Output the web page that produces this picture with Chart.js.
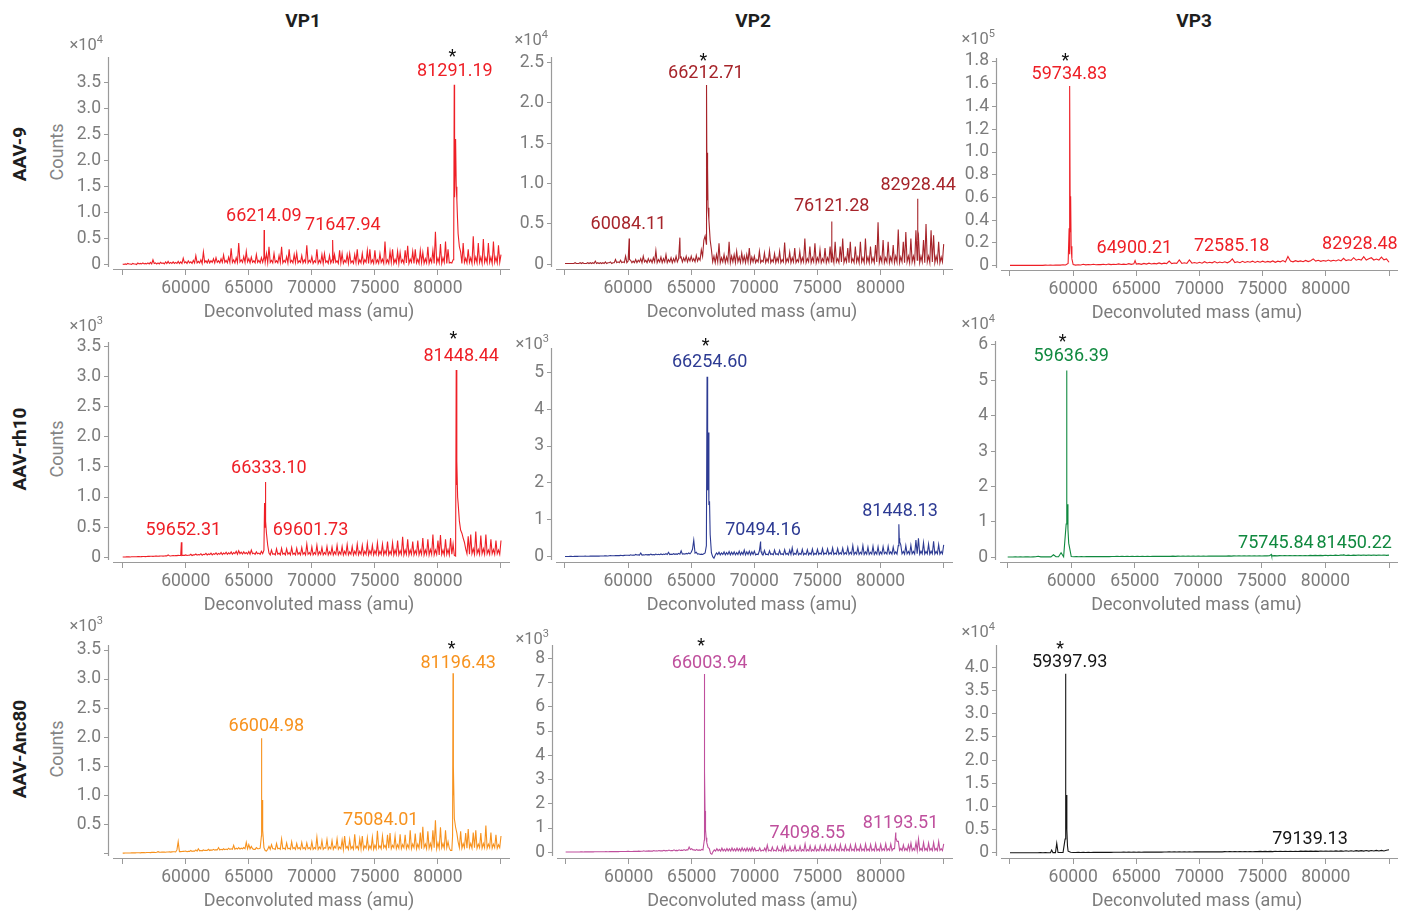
<!DOCTYPE html>
<html>
<head>
<meta charset="utf-8">
<script src="https://cdn.jsdelivr.net/npm/chart.js@4.4.1/dist/chart.umd.min.js"></script>
<style>
  body { margin: 0; background: #fff; width: 1415px; height: 916px; position: relative; overflow: hidden; font-family: Roboto, sans-serif; }
  canvas { position: absolute; }
  .lbl { position: absolute; white-space: nowrap; transform: translate(-50%, -50%); }
  .col { font-weight: bold; font-size: 19px; color: #1e1e1e; }
  .row { font-weight: bold; font-size: 19px; color: #1e1e1e; transform: translate(-50%, -50%) rotate(-90deg); }
  .cnt { font-size: 18px; color: #858585; transform: translate(-50%, -50%) rotate(-90deg); }
</style>
</head>
<body>
<div class="lbl col" style="left:303px;top:20px">VP1</div>
<div class="lbl col" style="left:753px;top:20px">VP2</div>
<div class="lbl col" style="left:1194px;top:20px">VP3</div>
<div class="lbl row" style="left:19px;top:154px">AAV-9</div>
<div class="lbl row" style="left:19px;top:449px">AAV-rh10</div>
<div class="lbl row" style="left:19px;top:749px">AAV-Anc80</div>
<div class="lbl cnt" style="left:56px;top:152px">Counts</div>
<div class="lbl cnt" style="left:56px;top:449px">Counts</div>
<div class="lbl cnt" style="left:56px;top:749px">Counts</div>
<script>
// mass grids shared by all spectra (amu)
const MASS = [
  55000,55200,55400,55600,55800,56000,56200,56400,56600,56800,57000,57200,57400,57600,57800,58000,58200,58400,58600,58800,59000,59200,59400,59600,59800,
  60000,60200,60400,60600,60800,61000,61200,61400,61600,61800,62000,62200,62400,62600,62800,63000,63200,63400,63600,63800,64000,64200,64400,64600,64800,
  65000,65200,65400,65600,65800,66000,66200,66400,66600,66800,67000,67200,67400,67600,67800,68000,68200,68400,68600,68800,69000,69200,69400,69600,69800,
  70000,70200,70400,70600,70800,71000,71200,71400,71600,71800,72000,72200,72400,72600,72800,73000,73200,73400,73600,73800,74000,74200,74400,74600,74800,
  75000,75200,75400,75600,75800,76000,76200,76400,76600,76800,77000,77200,77400,77600,77800,78000,78200,78400,78600,78800,79000,79200,79400,79600,79800,
  80000,80200,80400,80600,80800,81000,81200,81400,81600,81800,82000,82200,82400,82600,82800,83000,83200,83400,83600,83800,84000,84200,84400,84600,84800,85000
];
const MASS_MID = [
  55100,55300,55500,55700,55900,56100,56300,56500,56700,56900,57100,57300,57500,57700,57900,58100,58300,58500,58700,58900,59100,59300,59500,59700,59900,
  60100,60300,60500,60700,60900,61100,61300,61500,61700,61900,62100,62300,62500,62700,62900,63100,63300,63500,63700,63900,64100,64300,64500,64700,64900,
  65100,65300,65500,65700,65900,66100,66300,66500,66700,66900,67100,67300,67500,67700,67900,68100,68300,68500,68700,68900,69100,69300,69500,69700,69900,
  70100,70300,70500,70700,70900,71100,71300,71500,71700,71900,72100,72300,72500,72700,72900,73100,73300,73500,73700,73900,74100,74300,74500,74700,74900,
  75100,75300,75500,75700,75900,76100,76300,76500,76700,76900,77100,77300,77500,77700,77900,78100,78300,78500,78700,78900,79100,79300,79500,79700,79900,
  80100,80300,80500,80700,80900,81100,81300,81500,81700,81900,82100,82300,82500,82700,82900,83100,83300,83500,83700,83900,84100,84300,84500,84700,84900
];
const XTICKS = [55000, 60000, 65000, 70000, 75000, 80000, 85000];
const XTICK_LABELS = ['', '60000', '65000', '70000', '75000', '80000', ''];

// ---- AAV-9 ----
const AAV9_VP1 = [
  0.02,0.02,0.03,0.02,0.03,0.02,0.04,0.03,0.04,0.03,0.04,0.05,0.10,0.04,0.04,0.05,0.04,0.06,0.07,0.05,0.06,0.05,0.07,0.06,0.13,
  0.06,0.08,0.06,0.09,0.18,0.07,0.10,0.25,0.08,0.10,0.08,0.12,0.14,0.08,0.12,0.19,0.09,0.15,0.32,0.10,0.14,0.42,0.10,0.16,0.26,
  0.12,0.15,0.08,0.20,0.09,0.14,0.15,0.22,0.35,0.09,0.22,0.08,0.18,0.35,0.09,0.16,0.30,0.09,0.20,0.23,0.08,0.18,0.10,0.38,0.09,
  0.16,0.08,0.30,0.09,0.20,0.22,0.08,0.18,0.10,0.20,0.08,0.28,0.22,0.09,0.20,0.22,0.08,0.20,0.30,0.10,0.22,0.10,0.28,0.30,0.10,
  0.28,0.10,0.22,0.11,0.45,0.10,0.26,0.30,0.11,0.26,0.24,0.10,0.28,0.37,0.11,0.26,0.30,0.11,0.28,0.24,0.12,0.35,0.12,0.28,0.64,
  0.13,0.40,0.14,0.45,0.30,0.05,0.10,2.42,0.60,0.25,0.42,0.13,0.30,0.14,0.55,0.15,0.42,0.15,0.50,0.14,0.42,0.15,0.45,0.15,0.38,0.20
];
const AAV9_VP1_MID = [
  0.01,0.01,0.02,0.01,0.02,0.01,0.02,0.02,0.02,0.02,0.02,0.02,0.03,0.02,0.02,0.03,0.02,0.03,0.03,0.03,0.03,0.03,0.03,0.03,0.04,
  0.03,0.04,0.03,0.04,0.04,0.04,0.03,0.05,0.04,0.04,0.05,0.04,0.05,0.04,0.05,0.05,0.04,0.05,0.05,0.04,0.05,0.06,0.05,0.05,0.06,
  0.04,0.05,0.04,0.05,0.04,0.05,0.05,0.04,0.05,0.04,0.05,0.04,0.05,0.04,0.05,0.04,0.05,0.04,0.05,0.04,0.05,0.04,0.05,0.04,0.05,
  0.03,0.05,0.03,0.04,0.03,0.05,0.03,0.04,0.03,0.05,0.03,0.04,0.03,0.05,0.03,0.04,0.03,0.05,0.03,0.04,0.03,0.05,0.03,0.04,0.03,
  0.04,0.03,0.05,0.03,0.04,0.03,0.05,0.03,0.04,0.03,0.05,0.03,0.04,0.03,0.05,0.03,0.04,0.03,0.05,0.03,0.04,0.03,0.05,0.03,0.04,
  0.04,0.03,0.05,0.03,0.04,0.04,2.60,1.25,0.35,0.03,0.05,0.04,0.05,0.03,0.05,0.04,0.05,0.03,0.05,0.04,0.05,0.03,0.05,0.04,0.05
];
const AAV9_VP1_PEAKS = [[66214,0.67],[66240,0.2],[71648,0.48],[71680,0.18],[81250,0.3],[81291,3.46],[81340,1.3],[81450,1.5],[81500,1.25],[81550,0.9]];
const AAV9_VP1_LABELS = ['81291.19', '66214.09', '71647.94'];
const AAV9_VP1_YTICKS = [0, 0.5, 1, 1.5, 2, 2.5, 3, 3.5];

const AAV9_VP2 = [
  0.01,0.01,0.01,0.01,0.02,0.01,0.02,0.02,0.01,0.02,0.02,0.02,0.04,0.02,0.02,0.02,0.03,0.02,0.03,0.02,0.06,0.03,0.05,0.03,0.10,
  0.04,0.05,0.04,0.06,0.05,0.07,0.10,0.05,0.07,0.06,0.08,0.17,0.06,0.09,0.07,0.12,0.06,0.08,0.07,0.10,0.07,0.09,0.08,0.10,0.08,
  0.10,0.07,0.11,0.08,0.18,0.30,0.25,0.55,0.18,0.10,0.12,0.26,0.08,0.12,0.09,0.28,0.10,0.12,0.16,0.09,0.14,0.10,0.12,0.20,0.09,
  0.10,0.06,0.16,0.05,0.14,0.07,0.17,0.06,0.13,0.08,0.16,0.06,0.27,0.07,0.15,0.08,0.20,0.06,0.16,0.08,0.32,0.07,0.22,0.08,0.26,
  0.08,0.18,0.07,0.20,0.08,0.22,0.10,0.28,0.07,0.22,0.32,0.08,0.20,0.28,0.07,0.22,0.09,0.28,0.08,0.32,0.09,0.22,0.08,0.24,0.52,
  0.09,0.30,0.08,0.28,0.09,0.24,0.10,0.43,0.09,0.28,0.40,0.10,0.32,0.10,0.42,0.35,0.10,0.30,0.50,0.10,0.42,0.36,0.10,0.28,0.09,0.25
];
const AAV9_VP2_MID = [
  0.01,0.01,0.01,0.01,0.01,0.01,0.01,0.01,0.01,0.01,0.01,0.01,0.01,0.01,0.01,0.01,0.01,0.02,0.01,0.02,0.02,0.02,0.02,0.02,0.02,
  0.20,0.02,0.02,0.02,0.03,0.02,0.03,0.02,0.03,0.02,0.03,0.02,0.03,0.02,0.03,0.02,0.03,0.02,0.03,0.03,0.33,0.03,0.04,0.03,0.04,
  0.04,0.03,0.04,0.05,0.10,0.35,1.20,0.30,0.03,0.02,0.03,0.02,0.03,0.02,0.03,0.02,0.03,0.02,0.03,0.02,0.03,0.02,0.03,0.02,0.03,
  0.02,0.03,0.02,0.03,0.02,0.03,0.02,0.03,0.02,0.03,0.02,0.03,0.02,0.03,0.02,0.03,0.02,0.03,0.02,0.03,0.02,0.03,0.02,0.03,0.02,
  0.03,0.02,0.03,0.02,0.03,0.03,0.02,0.03,0.02,0.03,0.02,0.03,0.02,0.03,0.02,0.03,0.02,0.03,0.02,0.03,0.02,0.03,0.02,0.03,0.02,
  0.03,0.02,0.03,0.02,0.03,0.02,0.03,0.02,0.03,0.02,0.03,0.02,0.03,0.02,0.05,0.02,0.03,0.02,0.03,0.02,0.03,0.02,0.03,0.02,0.03
];
const AAV9_VP2_PEAKS = [[60084,0.32],[60110,0.06],[64100,0.33],[64130,0.08],[66212,2.22],[66250,0.8],[66290,1.38],[66330,0.7],[76121,0.53],[76150,0.2],[82928,0.81],[82960,0.3]];
const AAV9_VP2_LABELS = ['66212.71', '60084.11', '76121.28', '82928.44'];
const AAV9_VP2_YTICKS = [0, 0.5, 1, 1.5, 2, 2.5];

const AAV9_VP3 = [
  0.003,0.003,0.004,0.003,0.003,0.004,0.003,0.003,0.004,0.003,0.004,0.003,0.004,0.003,0.005,0.004,0.005,0.004,0.005,0.006,0.005,0.008,0.006,0.02,0.61,
  0.01,0.005,0.008,0.006,0.012,0.007,0.01,0.008,0.012,0.008,0.01,0.009,0.012,0.008,0.014,0.009,0.012,0.01,0.016,0.01,0.014,0.011,0.018,0.012,0.016,
  0.014,0.018,0.012,0.02,0.014,0.022,0.015,0.02,0.016,0.024,0.016,0.022,0.018,0.04,0.018,0.024,0.02,0.05,0.02,0.026,0.02,0.05,0.022,0.028,0.022,
  0.03,0.022,0.035,0.024,0.03,0.025,0.036,0.024,0.032,0.026,0.034,0.025,0.036,0.06,0.028,0.034,0.026,0.038,0.028,0.036,0.03,0.04,0.028,0.038,0.03,
  0.04,0.03,0.038,0.032,0.042,0.03,0.04,0.034,0.045,0.032,0.08,0.04,0.034,0.044,0.036,0.042,0.035,0.046,0.036,0.044,0.06,0.04,0.048,0.038,0.046,
  0.04,0.05,0.04,0.048,0.042,0.052,0.042,0.065,0.045,0.052,0.046,0.07,0.048,0.056,0.05,0.08,0.05,0.06,0.07,0.05,0.058,0.05,0.075,0.052,0.06,0.03
];
const AAV9_VP3_PEAKS = [[59680,0.33],[59710,0.1],[59735,1.58],[59770,0.3],[59840,0.17],[59900,0.06],[64900,0.045]];
const AAV9_VP3_LABELS = ['59734.83', '64900.21', '72585.18', '82928.48'];
const AAV9_VP3_YTICKS = [0, 0.2, 0.4, 0.6, 0.8, 1, 1.2, 1.4, 1.6, 1.8];

// ---- AAV-rh10 ----
const RH10_VP1 = [
  0.005,0.006,0.008,0.006,0.01,0.008,0.012,0.01,0.014,0.012,0.015,0.018,0.015,0.02,0.018,0.022,0.02,0.025,0.04,0.022,0.03,0.028,0.032,0.03,0.035,
  0.04,0.035,0.05,0.04,0.055,0.045,0.06,0.05,0.065,0.055,0.07,0.06,0.075,0.065,0.08,0.07,0.085,0.075,0.09,0.08,0.1,0.11,0.085,0.09,0.08,
  0.095,0.12,0.07,0.09,0.07,0.1,0.12,0.4,0.07,0.12,0.06,0.14,0.07,0.15,0.07,0.14,0.08,0.16,0.07,0.15,0.08,0.16,0.08,0.22,0.08,
  0.17,0.08,0.2,0.09,0.16,0.08,0.18,0.09,0.17,0.09,0.2,0.09,0.18,0.1,0.21,0.09,0.18,0.1,0.22,0.1,0.2,0.1,0.23,0.11,0.2,
  0.11,0.24,0.1,0.22,0.11,0.26,0.1,0.24,0.12,0.28,0.11,0.34,0.12,0.3,0.12,0.26,0.11,0.28,0.12,0.32,0.12,0.3,0.13,0.38,0.12,
  0.28,0.37,0.12,0.3,0.13,0.32,0.22,0.02,0.9,0.45,0.32,0.14,0.35,0.38,0.14,0.43,0.13,0.36,0.14,0.38,0.12,0.3,0.13,0.28,0.12,0.28
];
const RH10_VP1_MID = [
  0.005,0.007,0.007,0.008,0.009,0.01,0.011,0.012,0.013,0.014,0.016,0.017,0.018,0.019,0.02,0.021,0.022,0.024,0.025,0.026,0.027,0.028,0.03,0.03,0.032,
  0.03,0.035,0.03,0.04,0.035,0.04,0.035,0.045,0.04,0.045,0.04,0.05,0.045,0.05,0.045,0.055,0.05,0.055,0.05,0.06,0.05,0.06,0.055,0.06,0.055,
  0.05,0.06,0.05,0.06,0.05,0.06,0.7,0.2,0.04,0.05,0.04,0.05,0.04,0.05,0.04,0.05,0.04,0.05,0.04,0.05,0.04,0.05,0.04,0.05,0.04,
  0.04,0.05,0.04,0.05,0.04,0.05,0.04,0.05,0.04,0.05,0.04,0.05,0.04,0.05,0.04,0.05,0.04,0.05,0.04,0.05,0.04,0.05,0.04,0.05,0.04,
  0.05,0.04,0.05,0.04,0.05,0.04,0.05,0.04,0.05,0.04,0.05,0.04,0.05,0.04,0.05,0.04,0.05,0.04,0.05,0.04,0.05,0.04,0.05,0.04,0.05,
  0.04,0.05,0.04,0.05,0.04,0.05,0.03,1.4,0.6,0.4,0.25,0.06,0.05,0.06,0.05,0.06,0.05,0.06,0.05,0.06,0.05,0.06,0.05,0.06,0.05
];
const RH10_VP1_PEAKS = [[59652,0.25],[59690,0.04],[66250,0.9],[66290,0.5],[66333,1.25],[66360,0.6],[81448,3.11],[81480,1.2],[81510,1.6],[81560,1.0]];
const RH10_VP1_LABELS = ['81448.44', '66333.10', '59652.31', '69601.73'];
const RH10_VP1_YTICKS = [0, 0.5, 1, 1.5, 2, 2.5, 3, 3.5];

const RH10_VP2 = [
  0.005,0.006,0.008,0.007,0.01,0.008,0.012,0.01,0.014,0.012,0.015,0.014,0.016,0.015,0.018,0.02,0.025,0.02,0.028,0.025,0.03,0.028,0.035,0.03,0.04,
  0.04,0.05,0.045,0.06,0.05,0.1,0.05,0.06,0.055,0.07,0.06,0.07,0.065,0.075,0.07,0.08,0.12,0.07,0.08,0.075,0.09,0.16,0.08,0.09,0.1,
  0.12,0.45,0.12,0.08,0.07,0.08,0.3,1.4,0.1,-0.04,0.1,0.12,0.1,0.13,0.11,0.14,0.12,0.13,0.11,0.15,0.12,0.18,0.13,0.15,0.13,
  0.15,0.07,0.16,0.08,0.17,0.07,0.16,0.08,0.18,0.08,0.17,0.08,0.19,0.09,0.18,0.24,0.09,0.19,0.09,0.2,0.09,0.19,0.1,0.21,0.09,
  0.2,0.1,0.22,0.1,0.21,0.11,0.24,0.1,0.22,0.11,0.23,0.11,0.25,0.12,0.3,0.12,0.25,0.12,0.3,0.13,0.26,0.12,0.28,0.13,0.27,
  0.13,0.27,0.12,0.28,0.13,0.26,0.13,0.3,0.32,0.14,0.3,0.14,0.31,0.14,0.45,0.5,0.15,0.38,0.14,0.34,0.15,0.42,0.14,0.33,0.14,0.32
];
const RH10_VP2_MID = [
  0.005,0.007,0.008,0.008,0.009,0.01,0.011,0.012,0.013,0.013,0.014,0.015,0.015,0.016,0.019,0.022,0.022,0.024,0.026,0.027,0.029,0.03,0.032,0.035,0.04,
  0.035,0.04,0.04,0.045,0.045,0.045,0.045,0.05,0.05,0.05,0.05,0.055,0.055,0.055,0.06,0.06,0.06,0.06,0.065,0.065,0.07,0.07,0.07,0.075,0.08,
  0.2,0.1,0.07,0.06,0.06,0.1,1.8,0.6,0.0,0.04,0.06,0.05,0.06,0.05,0.06,0.05,0.06,0.05,0.06,0.05,0.06,0.05,0.06,0.05,0.06,
  0.05,0.06,0.3,0.05,0.06,0.05,0.06,0.05,0.06,0.05,0.06,0.05,0.06,0.05,0.06,0.05,0.06,0.05,0.06,0.05,0.06,0.05,0.06,0.05,0.06,
  0.06,0.07,0.06,0.07,0.06,0.07,0.06,0.07,0.06,0.07,0.06,0.07,0.06,0.07,0.06,0.07,0.06,0.07,0.06,0.07,0.06,0.07,0.06,0.07,0.06,
  0.07,0.08,0.07,0.08,0.07,0.08,0.07,0.45,0.08,0.07,0.08,0.07,0.08,0.07,0.08,0.07,0.08,0.07,0.08,0.07,0.08,0.07,0.08,0.07,0.08
];
const RH10_VP2_PEAKS = [[66254,4.88],[66300,1.8],[66350,3.37],[66450,1.5],[66500,0.6],[70494,0.41],[70530,0.14],[81448,0.88],[81480,0.5],[81530,0.4]];
const RH10_VP2_LABELS = ['66254.60', '70494.16', '81448.13'];
const RH10_VP2_YTICKS = [0, 1, 2, 3, 4, 5];

const RH10_VP3 = [
  0.01,0.01,0.01,0.012,0.01,0.012,0.01,0.012,0.012,0.01,0.012,0.015,0.03,0.012,0.014,0.012,0.015,0.013,0.07,0.014,0.016,0.13,0.015,0.94,0.4,
  0.02,0.015,0.02,0.016,0.02,0.017,0.02,0.018,0.022,0.018,0.022,0.02,0.022,0.019,0.024,0.02,0.024,0.021,0.025,0.021,0.025,0.022,0.026,0.022,0.026,
  0.023,0.027,0.023,0.028,0.024,0.028,0.024,0.029,0.025,0.03,0.025,0.03,0.026,0.031,0.026,0.032,0.027,0.032,0.028,0.033,0.028,0.034,0.029,0.034,0.03,
  0.035,0.03,0.036,0.031,0.036,0.032,0.037,0.032,0.038,0.033,0.038,0.034,0.039,0.034,0.04,0.035,0.04,0.036,0.041,0.036,0.042,0.037,0.042,0.038,0.043,
  0.038,0.044,0.039,0.045,0.04,0.046,0.041,0.047,0.042,0.048,0.042,0.049,0.043,0.05,0.044,0.05,0.045,0.052,0.045,0.053,0.046,0.054,0.047,0.055,0.048,
  0.056,0.048,0.058,0.05,0.06,0.05,0.06,0.062,0.052,0.06,0.052,0.062,0.053,0.063,0.054,0.064,0.054,0.065,0.055,0.066,0.055,0.066,0.056,0.065,0.055,0.06
];
const RH10_VP3_PEAKS = [[59636,5.28],[59660,1.0],[59700,1.5],[59740,0.8],[75746,0.08],[75770,0.04],[81450,0.07]];
const RH10_VP3_LABELS = ['59636.39', '75745.84', '81450.22'];
const RH10_VP3_YTICKS = [0, 1, 2, 3, 4, 5, 6];

// ---- AAV-Anc80 ----
const ANC80_VP1 = [
  0.005,0.006,0.008,0.007,0.01,0.009,0.012,0.01,0.014,0.012,0.016,0.014,0.018,0.016,0.03,0.02,0.022,0.02,0.025,0.022,0.028,0.025,0.2,0.03,0.035,
  0.04,0.035,0.05,0.04,0.06,0.08,0.05,0.06,0.055,0.07,0.06,0.07,0.065,0.1,0.07,0.08,0.075,0.09,0.08,0.14,0.09,0.1,0.09,0.1,0.19,
  0.15,0.12,0.07,0.1,0.08,0.3,0.1,0.04,0.12,0.15,0.08,0.17,0.09,0.25,0.09,0.18,0.09,0.2,0.1,0.17,0.1,0.19,0.1,0.18,0.1,
  0.2,0.1,0.28,0.11,0.22,0.1,0.24,0.11,0.22,0.12,0.25,0.11,0.23,0.3,0.12,0.24,0.12,0.33,0.12,0.25,0.3,0.13,0.27,0.13,0.28,
  0.14,0.39,0.13,0.3,0.14,0.32,0.35,0.14,0.3,0.15,0.33,0.15,0.32,0.15,0.4,0.16,0.34,0.16,0.36,0.46,0.16,0.38,0.17,0.4,0.57,
  0.18,0.45,0.17,0.4,0.2,0.05,1.2,0.45,0.2,0.38,0.17,0.35,0.42,0.17,0.36,0.4,0.16,0.35,0.17,0.48,0.16,0.36,0.16,0.32,0.15,0.3
];
const ANC80_VP1_MID = [
  0.005,0.007,0.008,0.009,0.01,0.011,0.012,0.013,0.014,0.015,0.016,0.017,0.018,0.02,0.022,0.022,0.024,0.025,0.026,0.027,0.028,0.06,0.03,0.032,0.036,
  0.03,0.035,0.035,0.04,0.04,0.045,0.045,0.05,0.05,0.05,0.055,0.055,0.06,0.06,0.06,0.065,0.065,0.07,0.07,0.07,0.075,0.075,0.08,0.08,0.08,
  0.08,0.08,0.07,0.08,0.09,0.4,0.05,0.07,0.07,0.08,0.07,0.08,0.07,0.08,0.07,0.08,0.07,0.08,0.07,0.08,0.07,0.08,0.07,0.08,0.07,
  0.07,0.08,0.07,0.08,0.07,0.09,0.07,0.08,0.07,0.09,0.07,0.08,0.07,0.09,0.07,0.08,0.07,0.09,0.07,0.08,0.07,0.09,0.07,0.08,0.07,
  0.08,0.09,0.08,0.1,0.08,0.09,0.08,0.1,0.08,0.09,0.08,0.1,0.08,0.09,0.08,0.1,0.08,0.09,0.08,0.1,0.08,0.09,0.08,0.1,0.08,
  0.09,0.1,0.09,0.1,0.09,0.05,0.6,0.35,0.1,0.09,0.1,0.09,0.1,0.09,0.1,0.09,0.1,0.09,0.1,0.09,0.1,0.09,0.1,0.09,0.1
];
const ANC80_VP1_PEAKS = [[66005,1.98],[66030,0.6],[66060,0.92],[66100,0.4],[81160,0.3],[81196,3.1],[81220,1.0],[81250,1.49],[81300,0.6]];
const ANC80_VP1_LABELS = ['81196.43', '66004.98', '75084.01'];
const ANC80_VP1_YTICKS = [0, 0.5, 1, 1.5, 2, 2.5, 3, 3.5];

const ANC80_VP2 = [
  0.01,0.012,0.014,0.012,0.015,0.014,0.016,0.015,0.018,0.016,0.02,0.018,0.022,0.02,0.024,0.022,0.026,0.024,0.028,0.026,0.03,0.028,0.032,0.03,0.035,
  0.04,0.035,0.045,0.04,0.05,0.045,0.06,0.05,0.06,0.055,0.07,0.06,0.075,0.065,0.08,0.07,0.09,0.075,0.1,0.08,0.1,0.09,0.11,0.1,0.22,
  0.15,0.1,0.12,0.1,0.12,0.5,0.4,0.15,-0.08,0.1,0.15,0.12,0.17,0.13,0.16,0.14,0.18,0.14,0.17,0.15,0.19,0.15,0.18,0.16,0.2,
  0.17,0.08,0.18,0.09,0.17,0.3,0.09,0.22,0.09,0.23,0.1,0.24,0.3,0.1,0.24,0.1,0.26,0.1,0.25,0.11,0.35,0.11,0.27,0.11,0.26,
  0.12,0.28,0.12,0.3,0.12,0.28,0.12,0.3,0.13,0.32,0.13,0.29,0.13,0.31,0.13,0.33,0.14,0.3,0.14,0.34,0.14,0.32,0.14,0.35,0.14,
  0.32,0.15,0.35,0.15,0.34,0.15,0.6,0.45,0.16,0.3,0.16,0.3,0.38,0.16,0.4,0.55,0.16,0.4,0.16,0.38,0.16,0.4,0.16,0.45,0.15,0.35
];
const ANC80_VP2_MID = [
  0.011,0.013,0.013,0.014,0.015,0.015,0.016,0.017,0.017,0.018,0.019,0.02,0.021,0.022,0.023,0.024,0.025,0.026,0.027,0.028,0.029,0.03,0.031,0.033,0.037,
  0.035,0.035,0.04,0.04,0.04,0.045,0.045,0.05,0.05,0.05,0.055,0.055,0.06,0.06,0.06,0.065,0.065,0.07,0.07,0.07,0.075,0.075,0.08,0.1,0.12,
  0.1,0.08,0.08,0.08,0.1,0.92,0.2,-0.05,0.03,0.05,0.06,0.05,0.06,0.05,0.06,0.05,0.06,0.05,0.06,0.05,0.06,0.05,0.06,0.05,0.06,
  0.05,0.06,0.05,0.06,0.05,0.06,0.05,0.06,0.05,0.06,0.05,0.06,0.05,0.06,0.05,0.06,0.05,0.06,0.05,0.06,0.05,0.06,0.05,0.06,0.05,
  0.06,0.07,0.06,0.07,0.06,0.07,0.06,0.07,0.06,0.07,0.06,0.07,0.06,0.07,0.06,0.07,0.06,0.07,0.06,0.07,0.06,0.07,0.06,0.07,0.06,
  0.07,0.08,0.07,0.08,0.07,0.15,0.45,0.08,0.07,0.08,0.07,0.08,0.07,0.08,0.07,0.08,0.07,0.08,0.07,0.08,0.07,0.08,0.07,0.08,0.07
];
const ANC80_VP2_PEAKS = [[66004,7.35],[66020,2.0],[66035,3.35],[66060,1.7],[66100,0.92],[66150,0.6],[81193,0.82]];
const ANC80_VP2_LABELS = ['66003.94', '74098.55', '81193.51'];
const ANC80_VP2_YTICKS = [0, 1, 2, 3, 4, 5, 6, 7, 8];

const ANC80_VP3 = [
  0.005,0.005,0.005,0.006,0.005,0.006,0.005,0.006,0.006,0.005,0.006,0.006,0.012,0.006,0.007,0.006,0.007,0.008,0.008,0.01,0.01,0.012,3.0,0.04,0.015,
  0.012,0.01,0.013,0.011,0.014,0.012,0.014,0.012,0.015,0.013,0.015,0.013,0.016,0.014,0.016,0.014,0.017,0.015,0.017,0.015,0.018,0.016,0.018,0.016,0.019,
  0.017,0.02,0.017,0.02,0.018,0.021,0.018,0.021,0.019,0.022,0.019,0.022,0.02,0.023,0.02,0.023,0.021,0.024,0.021,0.024,0.022,0.025,0.022,0.025,0.023,
  0.026,0.023,0.026,0.024,0.027,0.024,0.028,0.025,0.028,0.025,0.029,0.026,0.03,0.026,0.03,0.027,0.031,0.027,0.032,0.028,0.032,0.028,0.033,0.029,0.034,
  0.029,0.034,0.03,0.035,0.03,0.036,0.031,0.036,0.032,0.037,0.032,0.038,0.033,0.038,0.033,0.039,0.034,0.04,0.034,0.04,0.035,0.041,0.035,0.042,0.036,
  0.043,0.036,0.044,0.037,0.045,0.037,0.046,0.038,0.047,0.038,0.048,0.039,0.05,0.04,0.05,0.04,0.052,0.041,0.053,0.042,0.055,0.043,0.056,0.044,0.058,0.07
];
const ANC80_VP3_PEAKS = [[58300,0.065],[58700,0.21],[59360,0.3],[59398,3.86],[59430,0.9],[59450,1.25],[59500,0.5],[59550,0.15]];
const ANC80_VP3_LABELS = ['59397.93', '79139.13'];
const ANC80_VP3_YTICKS = [0, 0.5, 1, 1.5, 2, 2.5, 3, 3.5, 4];

const AXIS = '#9a9a9a';
const TICK = '#7c7c7c';
const FONT = 'Roboto';

// layout per panel: rect = chart area [left, top, right, bottom] in page px,
// labelAt / star = annotation anchors in data units, mult = "×10^n" offset from top-left corner
const PANELS = [
  { noise: AAV9_VP1, mid: AAV9_VP1_MID, peaks: AAV9_VP1_PEAKS, labels: AAV9_VP1_LABELS, yTicks: AAV9_VP1_YTICKS, dec: 1, exp: '4',
    color: '#ee1f26', rect: [108, 57, 510, 269], x: [53834, 85714], y: [-0.077, 3.993],
    labelAt: [[81342, 3.71], [66195, 0.94], [72460, 0.75]], star: [81143, 4.06], mult: [-5, -11] },
  { noise: AAV9_VP2, mid: AAV9_VP2_MID, peaks: AAV9_VP2_PEAKS, labels: AAV9_VP2_LABELS, yTicks: AAV9_VP2_YTICKS, dec: 1, exp: '4',
    color: '#a6242a', rect: [551, 57, 953, 269], x: [53891, 85737], y: [-0.058, 2.566],
    labelAt: [[66157, 2.36], [60017, 0.49], [76125, 0.715], [82977, 0.975]], star: [65959, 2.566], mult: [-3, -16] },
  { noise: AAV9_VP3, mid: [], peaks: AAV9_VP3_PEAKS, labels: AAV9_VP3_LABELS, yTicks: AAV9_VP3_YTICKS, dec: 1, exp: '5',
    color: '#ee1f26', rect: [996, 58, 1398, 270], x: [53892, 85712], y: [-0.038, 1.827],
    labelAt: [[59697, 1.686], [64842, 0.15], [72546, 0.173], [82691, 0.182]], star: [59380, 1.833], mult: [-1, -18] },
  { noise: RH10_VP1, mid: RH10_VP1_MID, peaks: RH10_VP1_PEAKS, labels: RH10_VP1_LABELS, yTicks: RH10_VP1_YTICKS, dec: 1, exp: '3',
    color: '#ee1f26', rect: [108, 342, 510, 562], x: [53834, 85714], y: [-0.078, 3.576],
    labelAt: [[81844, 3.333], [66591, 1.467], [59811, 0.443], [69896, 0.443]], star: [81222, 3.677], mult: [-5, -15] },
  { noise: RH10_VP2, mid: RH10_VP2_MID, peaks: RH10_VP2_PEAKS, labels: RH10_VP2_LABELS, yTicks: RH10_VP2_YTICKS, dec: 0, exp: '3',
    color: '#2d3b93', rect: [551, 348, 953, 562], x: [53891, 85737], y: [-0.144, 5.66],
    labelAt: [[66460, 5.27], [70685, 0.705], [81538, 1.22]], star: [66143, 5.8], mult: [-2, -3] },
  { noise: RH10_VP3, mid: [], peaks: RH10_VP3_PEAKS, labels: RH10_VP3_LABELS, yTicks: RH10_VP3_YTICKS, dec: 0, exp: '4',
    color: '#10893f', rect: [995, 341, 1398, 562], x: [54001, 85708], y: [-0.133, 6.112],
    labelAt: [[59996, 5.67], [76098, 0.395], [82261, 0.395]], star: [59327, 6.19], mult: [0, -16] },
  { noise: ANC80_VP1, mid: ANC80_VP1_MID, peaks: ANC80_VP1_PEAKS, labels: ANC80_VP1_LABELS, yTicks: ANC80_VP1_YTICKS, dec: 1, exp: '3',
    color: '#f7921e', rect: [108, 645, 510, 858], x: [53834, 85714], y: [-0.079, 3.587], hideZero: true,
    labelAt: [[81606, 3.26], [66393, 2.18], [75460, 0.562]], star: [81090, 3.586], mult: [-5, -18] },
  { noise: ANC80_VP2, mid: ANC80_VP2_MID, peaks: ANC80_VP2_PEAKS, labels: ANC80_VP2_LABELS, yTicks: ANC80_VP2_YTICKS, dec: 0, exp: '3',
    color: '#bf4f9d', rect: [552, 645, 953, 858], x: [53918, 85737], y: [-0.235, 8.548],
    labelAt: [[66421, 7.77], [74184, 0.756], [81576, 1.196]], star: [65747, 8.646], mult: [-3, -5] },
  { noise: ANC80_VP3, mid: [], peaks: ANC80_VP3_PEAKS, labels: ANC80_VP3_LABELS, yTicks: ANC80_VP3_YTICKS, dec: 1, exp: '4',
    color: '#151515', rect: [996, 645, 1398, 858], x: [53892, 85712], y: [-0.108, 4.481],
    labelAt: [[59723, 4.11], [78747, 0.28]], star: [58958, 4.48], mult: [-1, -12] },
];

const PAD_L = 48, PAD_T = 45, PAD_R = 14, PAD_B = 55;

function annotator(p) {
  return {
    id: 'annot',
    afterDraw(chart) {
      const { ctx, chartArea: a, scales: { x, y } } = chart;
      ctx.save();
      // offset spines
      ctx.strokeStyle = AXIS;
      ctx.lineWidth = 1.2;
      ctx.beginPath();
      ctx.moveTo(a.left + 0.5, a.top);
      ctx.lineTo(a.left + 0.5, a.bottom - 2);
      ctx.moveTo(a.left + 5, a.bottom + 0.5);
      ctx.lineTo(a.right, a.bottom + 0.5);
      ctx.stroke();

      // ×10^n multiplier
      ctx.fillStyle = TICK;
      ctx.textBaseline = 'middle';
      ctx.textAlign = 'left';
      ctx.font = `16.5px ${FONT}`;
      const w1 = ctx.measureText('×10').width;
      ctx.font = `11px ${FONT}`;
      const w2 = ctx.measureText(p.exp).width;
      const rx = a.left + p.mult[0], cy = a.top + p.mult[1];
      ctx.font = `16.5px ${FONT}`;
      ctx.fillText('×10', rx - w1 - w2, cy);
      ctx.font = `11px ${FONT}`;
      ctx.fillText(p.exp, rx - w2, cy - 6);

      // peak labels
      ctx.textAlign = 'center';
      ctx.font = `18px ${FONT}`;
      ctx.fillStyle = p.color;
      p.labels.forEach((t, i) => {
        ctx.fillText(t, x.getPixelForValue(p.labelAt[i][0]), y.getPixelForValue(p.labelAt[i][1]));
      });
      ctx.fillStyle = '#111';
      ctx.fillText('*', x.getPixelForValue(p.star[0]), y.getPixelForValue(p.star[1]) + 4);

      // x axis title
      ctx.fillStyle = TICK;
      ctx.fillText('Deconvoluted mass (amu)', (a.left + a.right) / 2, a.bottom + 43);
      ctx.restore();
    }
  };
}

function makePanel(p) {
  const [L, T, R, B] = p.rect;
  const w = R - L + PAD_L + PAD_R;
  const h = B - T + PAD_T + PAD_B;
  const cv = document.createElement('canvas');
  cv.width = w; cv.height = h;
  cv.style.left = (L - PAD_L) + 'px';
  cv.style.top = (T - PAD_T) + 'px';
  cv.style.width = w + 'px';
  cv.style.height = h + 'px';
  document.body.appendChild(cv);

  const points = p.noise.slice(0, MASS.length).map((v, i) => ({ x: MASS[i], y: v }))
    .concat(p.mid.slice(0, MASS_MID.length).map((v, i) => ({ x: MASS_MID[i], y: v })))
    .concat(p.peaks.map(([m, v]) => ({ x: m, y: v })))
    .sort((a, b) => a.x - b.x);

  const fmtY = (v) => (v === 0 ? (p.hideZero ? '' : '0') : v.toFixed(p.dec));

  new Chart(cv, {
    type: 'line',
    data: {
      datasets: [{
        data: points,
        borderColor: p.color,
        borderWidth: 1.1,
        pointRadius: 0,
        tension: 0,
        fill: false,
      }],
    },
    options: {
      responsive: false,
      animation: false,
      events: [],
      layout: { padding: { left: 0, top: PAD_T, right: PAD_R, bottom: 0 } },
      plugins: { legend: { display: false }, tooltip: { enabled: false } },
      scales: {
        x: {
          type: 'linear',
          min: p.x[0], max: p.x[1],
          afterBuildTicks: (s) => { s.ticks = XTICKS.map((v) => ({ value: v })); },
          afterFit: (s) => { s.height = PAD_B; },
          ticks: {
            callback: (v, i) => XTICK_LABELS[i],
            color: TICK, font: { family: FONT, size: 17.5 },
            padding: 3, maxRotation: 0, autoSkip: false,
          },
          grid: { drawOnChartArea: false, tickLength: 6, color: AXIS },
          border: { display: false },
        },
        y: {
          min: p.y[0], max: p.y[1],
          afterBuildTicks: (s) => { s.ticks = p.yTicks.map((v) => ({ value: v })); },
          afterFit: (s) => { s.width = PAD_L; },
          ticks: {
            callback: (v, i) => fmtY(p.yTicks[i]),
            color: TICK, font: { family: FONT, size: 17.5 },
            padding: 3, autoSkip: false,
          },
          grid: { drawOnChartArea: false, tickLength: 4, color: AXIS },
          border: { display: false },
        },
      },
    },
    plugins: [annotator(p)],
  });
}

PANELS.forEach(makePanel);
</script>
</body>
</html>
